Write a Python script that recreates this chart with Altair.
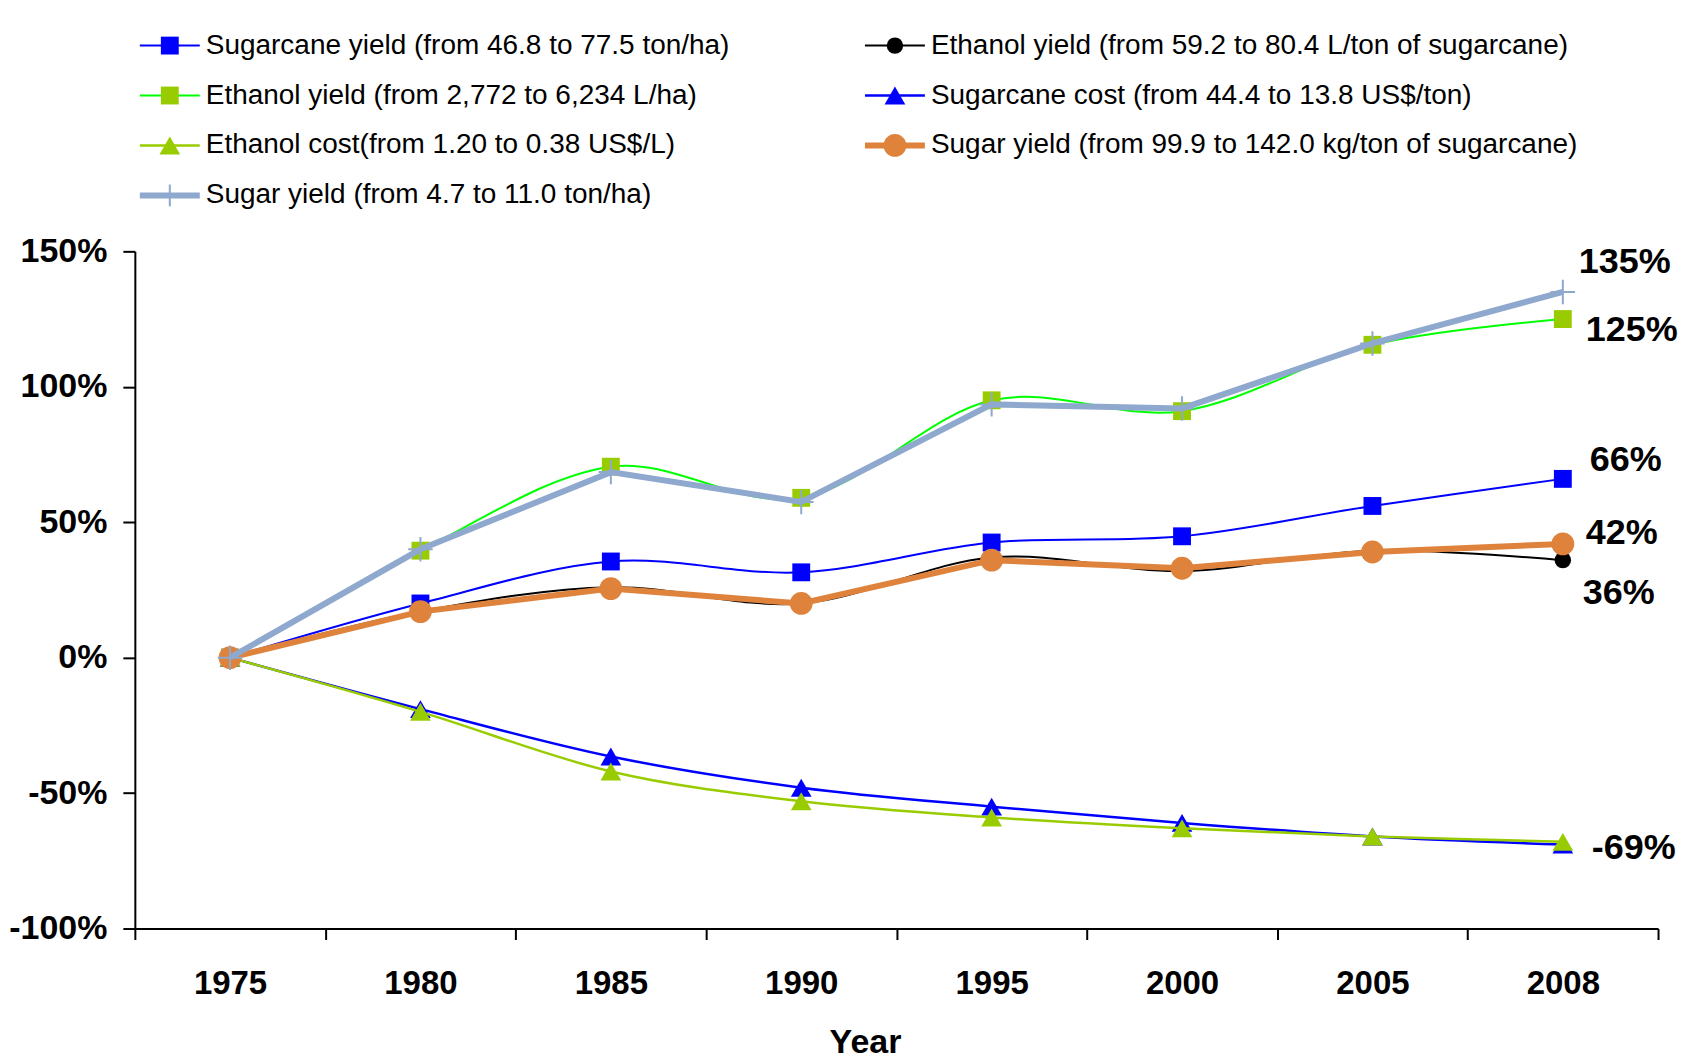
import altair as alt
import pandas as pd

# ---------------- data ----------------
years = ['1975', '1980', '1985', '1990', '1995', '2000', '2005', '2008']

sugarcane_yield = [0, 20, 35.5, 31.5, 42.5, 44.8, 56, 66]
ethanol_yield_lton = [0, 17, 26, 20, 37, 32, 39.5, 36]
ethanol_yield_lha = [0, 39.5, 70.5, 59, 95, 91, 115.5, 125]
sugarcane_cost = [0, -19, -36.5, -48, -55, -61, -66, -69]
ethanol_cost = [0, -20, -42, -53, -59, -63, -66, -68]
sugar_yield_kg = [0, 17, 25.5, 20, 36, 33, 39, 42]
sugar_yield_ha = [0, 40, 68.5, 57.5, 93.5, 92, 116, 135]

series_labels = [
    'Sugarcane yield (from 46.8 to 77.5 ton/ha)',
    'Ethanol yield (from 59.2 to 80.4 L/ton of sugarcane)',
    'Ethanol yield (from 2,772 to 6,234 L/ha)',
    'Sugarcane cost (from 44.4 to 13.8 US$/ton)',
    'Ethanol cost(from 1.20 to 0.38 US$/L)',
    'Sugar yield (from 99.9 to 142.0 kg/ton of sugarcane)',
    'Sugar yield (from 4.7 to 11.0 ton/ha)',
]
series_values = [sugarcane_yield, ethanol_yield_lton, ethanol_yield_lha,
                 sugarcane_cost, ethanol_cost, sugar_yield_kg, sugar_yield_ha]

end_label_texts = ['135%', '125%', '66%', '42%', '36%', '-69%']
end_label_values = [135, 125, 66, 42, 36, -69]

y_ticks = [-100, -50, 0, 50, 100, 150]

# ---------------- styles ----------------
FONT = 'Liberation Sans'
BLUE = '#0000FF'
LIME = '#00FF00'
YGREEN = '#99CC00'
ORANGE = '#DE823C'
GREYBLUE = '#8EA8CE'
CROSS = 'M-1,0H1M0,-1V1'

styles = [
    dict(line=BLUE, marker=BLUE, shape='square', size=320, lw=2, interp='cardinal', filled=True),
    dict(line='#000000', marker='#000000', shape='circle', size=270, lw=2, interp='cardinal', filled=True),
    dict(line=LIME, marker=YGREEN, shape='square', size=320, lw=2, interp='cardinal', filled=True),
    dict(line=BLUE, marker=BLUE, shape='triangle-up', size=430, lw=2.5, interp='cardinal', filled=True),
    dict(line=YGREEN, marker=YGREEN, shape='triangle-up', size=430, lw=2.5, interp='cardinal', filled=True),
    dict(line=ORANGE, marker=ORANGE, shape='circle', size=520, lw=6, interp='linear', filled=True),
    dict(line=GREYBLUE, marker=GREYBLUE, shape=CROSS, size=600, lw=6, interp='linear', filled=False),
]
end_label_offsets = [(16, -30), (23, 11), (27, -19), (23, -11), (20, 33), (29, 3)]

# ---------------- main chart ----------------
x_values = [i / 2 - 0.5 for i in range(2 * len(years) + 1)]
year_array = '[' + ','.join("'" + y + "'" for y in years) + ']'
label_expr = "datum.value % 1 === 0 ? " + year_array + "[datum.value] : ''"

x_axis = alt.Axis(
    values=x_values,
    labelExpr=label_expr,
    tickOpacity={"condition": {"test": "datum.value % 1 !== 0", "value": 1}, "value": 0},
    tickSize=11, labelPadding=28, labelOverlap=False, labelFlush=False,
    grid=False, titleFontSize=34, titleFontWeight='bold', titlePadding=25,
    titleX=731,
)
y_axis = alt.Axis(
    values=y_ticks, labelExpr="datum.value + '%'", tickSize=12, labelPadding=16,
    grid=False, labelOverlap=False, labelFontSize=34,
)

x_enc = alt.X('xi:Q', scale=alt.Scale(domain=[-0.5, len(years) - 0.5], nice=False, zero=False),
              axis=x_axis, title='Year')
y_enc = alt.Y('v:Q', scale=alt.Scale(domain=[-100, 150], nice=False, zero=False),
              axis=y_axis, title=None)

layers = []
for vals, st in zip(series_values, styles):
    df = pd.DataFrame({'xi': list(range(len(years))), 'year': years, 'v': vals})
    base = alt.Chart(df)
    line = base.mark_line(color=st['line'], strokeWidth=st['lw'], interpolate=st['interp']).encode(
        x=x_enc, y=y_enc)
    if st['filled']:
        pts = base.mark_point(shape=st['shape'], size=st['size'], filled=True,
                              color=st['marker'], opacity=1, strokeWidth=0).encode(x=x_enc, y=y_enc)
    else:
        pts = base.mark_point(shape=st['shape'], size=st['size'], filled=False,
                              color=st['marker'], opacity=1, strokeWidth=2).encode(x=x_enc, y=y_enc)
    layers += [line, pts]

for txt, val, (dx, dy) in zip(end_label_texts, end_label_values, end_label_offsets):
    df = pd.DataFrame({'xi': [len(years) - 1], 'v': [val], 't': [txt]})
    layers.append(
        alt.Chart(df).mark_text(align='left', baseline='middle', dx=dx, dy=dy, fontSize=36,
                                fontWeight='bold', font=FONT, color='black').encode(
            x=x_enc, y=y_enc, text='t:N')
    )

main = alt.layer(*layers).properties(width=1525, height=678)

# ---------------- legend ----------------
lx = alt.X('col:Q', scale=alt.Scale(domain=[0, 1], nice=False, zero=False), axis=None)
ly = alt.Y('row:Q', scale=alt.Scale(domain=[0, 3], nice=False, zero=False, reverse=True), axis=None)

leg_layers = []
for i, (lab, st) in enumerate(zip(series_labels, styles)):
    df = pd.DataFrame({'col': [i % 2], 'row': [i // 2], 'label': [lab]})
    b = alt.Chart(df)
    leg_layers.append(b.mark_rule(xOffset=5, x2Offset=65, strokeWidth=st['lw'], color=st['line'])
                      .encode(x=lx, x2=alt.X2('col:Q'), y=ly))
    if st['filled']:
        leg_layers.append(b.mark_point(xOffset=35, shape=st['shape'], size=st['size'], filled=True,
                                       color=st['marker'], opacity=1, strokeWidth=0).encode(x=lx, y=ly))
    else:
        leg_layers.append(b.mark_point(xOffset=35, shape=st['shape'], size=st['size'] * 0.8, filled=False,
                                       color=st['marker'], opacity=1, strokeWidth=2).encode(x=lx, y=ly))
    leg_layers.append(b.mark_text(xOffset=71, align='left', baseline='middle', fontSize=28, font=FONT,
                                  color='black').encode(x=lx, y=ly, text='label:N'))

legend = alt.layer(*leg_layers).properties(width=726, height=150)

chart = alt.vconcat(legend, main, spacing=24).properties(
    padding={'left': 0, 'top': 23, 'right': 5, 'bottom': 0}
).configure(
    font=FONT
).configure_view(
    stroke=None
).configure_axis(
    domainColor='black', domainWidth=2, tickColor='black', tickWidth=2,
    labelFont=FONT, labelFontSize=33, labelFontWeight='bold', labelColor='black',
    titleFont=FONT, titleColor='black'
)

chart.save('out.html', embed_options={'renderer': 'svg', 'actions': False})
